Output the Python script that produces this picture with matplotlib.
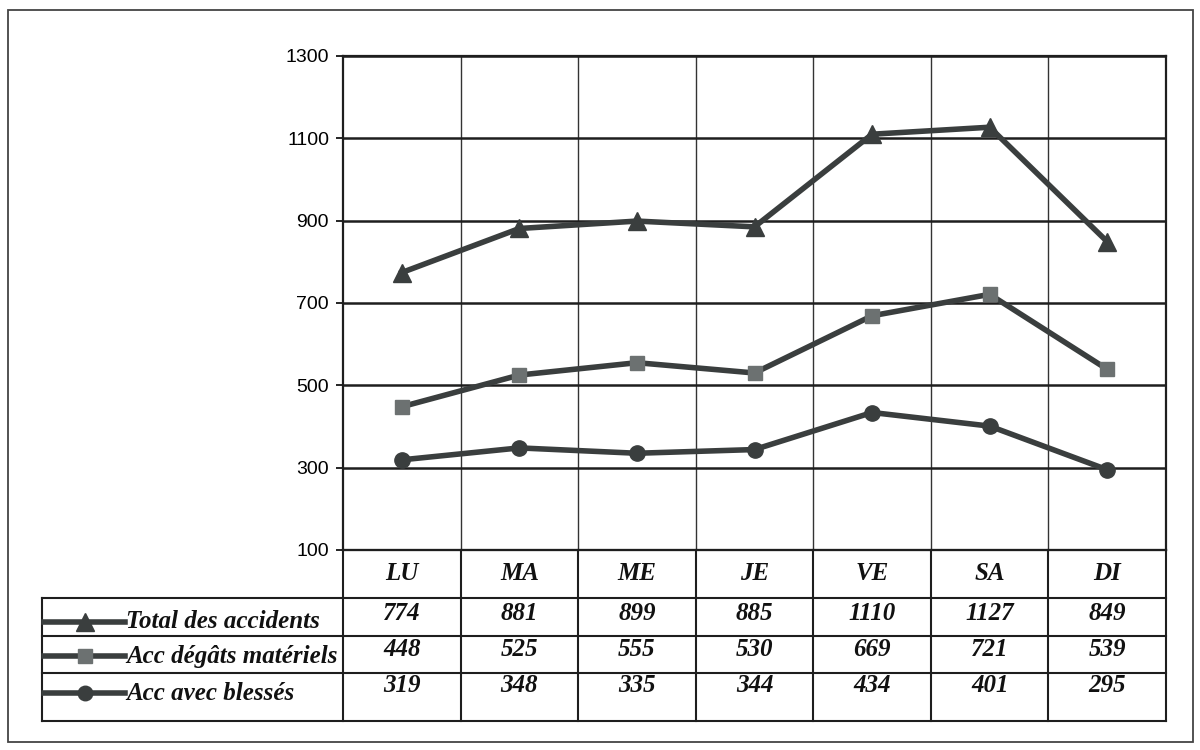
import matplotlib.pyplot as plt
from matplotlib.patches import Rectangle

# ---------------- data ----------------
days = ["LU", "MA", "ME", "JE", "VE", "SA", "DI"]
total = [774, 881, 899, 885, 1110, 1127, 849]
degats = [448, 525, 555, 530, 669, 721, 539]
blesses = [319, 348, 335, 344, 434, 401, 295]
labels = ["Total des accidents", "Acc dégâts matériels", "Acc avec blessés"]
yticks = [100, 300, 500, 700, 900, 1100, 1300]

LINE = "#3a3e3e"
SQUARE = "#6c7171"
series = [
    (total, "^", LINE, 13.5),
    (degats, "s", SQUARE, 10.5),
    (blesses, "o", LINE, 11),
]

W, H = 1200, 750
fig = plt.figure(figsize=(12, 7.5), dpi=100)

# plot area in pixels: x 343..1166, y 56..550
PL, PR, PT, PB = 343, 1166, 56, 550
ax = fig.add_axes([PL / W, 1 - PB / H, (PR - PL) / W, (PB - PT) / H])
x = list(range(len(days)))
for vals, mk, mc, ms in series:
    ax.plot(x, vals, color=LINE, lw=4.0, marker=mk, ms=ms,
            markerfacecolor=mc, markeredgecolor=mc, zorder=3)

ax.set_xlim(-0.5, len(days) - 0.5)
ax.set_ylim(100, 1300)
ax.set_yticks(yticks)
ax.set_yticklabels([str(v) for v in yticks], family="Liberation Sans", fontsize=14)
ax.set_xticks([])
ax.set_xticks([i + 0.5 for i in range(len(days) - 1)], minor=True)
ax.tick_params(axis="y", direction="out", length=5, width=1.2, pad=5)
ax.tick_params(axis="x", which="minor", length=0)
ax.grid(axis="y", color="#1e1e1e", lw=1.8, zorder=1)
ax.grid(axis="x", which="minor", color="#333333", lw=1.0, zorder=1)
for s in ax.spines.values():
    s.set_color("#1e1e1e")
    s.set_linewidth(1.6)

# ---------------- data table below the plot ----------------
TB = 721
tax = fig.add_axes([PL / W, 1 - TB / H, (PR - PL) / W, (TB - PB) / H])
tax.set_xlim(-0.5, len(days) - 0.5)
tax.set_ylim(TB, PB)
tax.axis("off")

colw = (PR - PL) / len(days)
def px2x(px):
    return -0.5 + (px - PL) / colw

LEFT = 42
row_lines = [598, 636, 673]
kw = dict(color="#1e1e1e", lw=1.5, clip_on=False)
# header row box
tax.plot([px2x(PL), px2x(PR)], [PB, PB], **kw)
# rows spanning legend column
for yl in row_lines + [TB]:
    tax.plot([px2x(LEFT), px2x(PR)], [yl, yl], **kw)
tax.plot([px2x(LEFT), px2x(LEFT)], [row_lines[0], TB], **kw)
for i in range(len(days) + 1):
    tax.plot([i - 0.5, i - 0.5], [PB, TB], **kw)

txt = dict(family="Liberation Serif", weight="bold", style="italic",
           fontsize=18, color="#111111")
for i, d in enumerate(days):
    tax.text(i, 574, d, ha="center", va="center", **txt)

num_y = [614, 650, 686]
lab_y = [622, 656, 693]
for (vals, mk, mc, ms), lab, ny, ly in zip(series, labels, num_y, lab_y):
    for i, v in enumerate(vals):
        tax.text(i, ny, str(v), ha="center", va="center", **txt)
    tax.plot([px2x(LEFT + 2), px2x(125)], [ly, ly], color=LINE, lw=4.0,
             clip_on=False)
    tax.plot([px2x(85)], [ly], marker=mk, ms=ms * 0.95, color=mc,
             markeredgecolor=mc, clip_on=False)
    tax.text(px2x(126), ly, lab, ha="left", va="center", **txt)

# outer frame of the scanned figure
fig.patches.append(Rectangle((8 / W, 1 - 742 / H), 1185 / W, 732 / H,
                             transform=fig.transFigure, fill=False,
                             edgecolor="#444444", lw=1.3))

fig.savefig("out.png", dpi=100)
